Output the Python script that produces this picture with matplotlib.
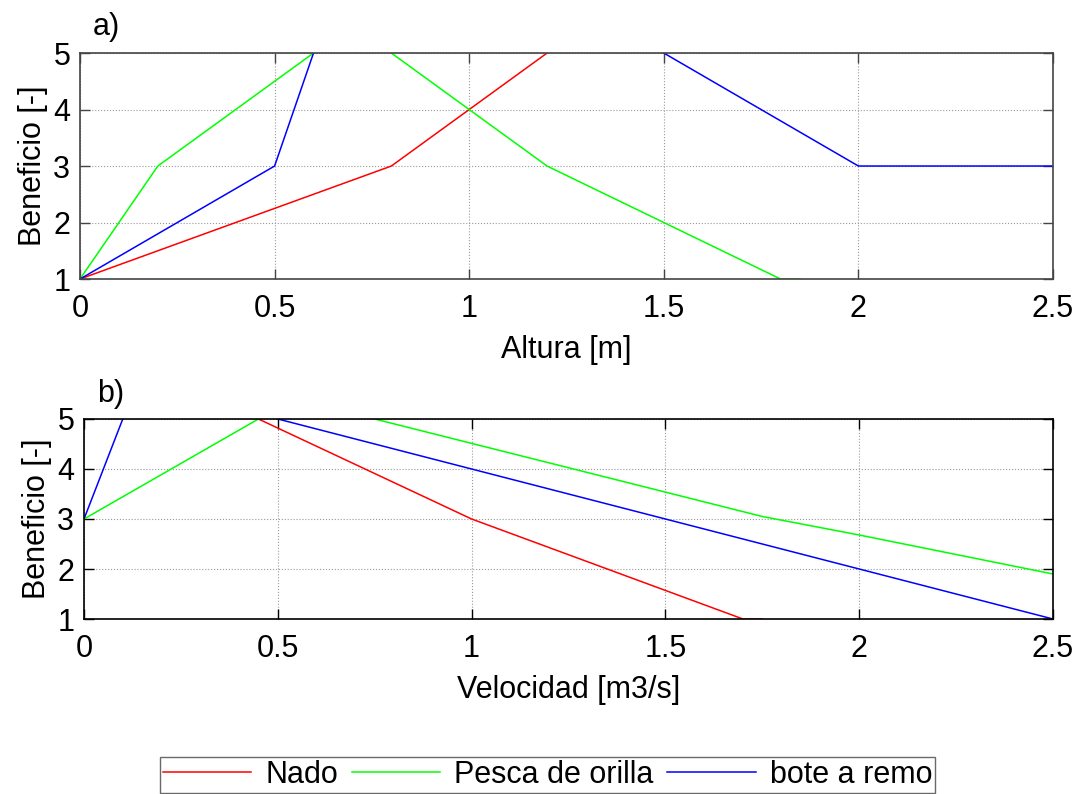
import matplotlib.pyplot as plt

plt.rcParams['font.family'] = ['Liberation Sans', 'DejaVu Sans']

# a) Beneficio vs altura
alt_nado_x = [0, 0.8, 1.2]
alt_nado_y = [1, 3, 5]
alt_pesca_x = [0, 0.2, 0.6, 0.7, 0.8, 1.2, 1.8, 1.85]
alt_pesca_y = [1, 3, 5, 5.5, 5, 3, 1, 1]
alt_bote_x = [0, 0.5, 0.6, 1.0, 1.5, 2.0, 2.5]
alt_bote_y = [1, 3, 5, 6, 5, 3, 3]

# b) Beneficio vs velocidad
vel_nado_x = [0.45, 1.0, 1.7, 1.75]
vel_nado_y = [5, 3, 1, 1]
vel_pesca_x = [0, 0.45, 0.6, 0.75, 1.75, 2.0, 2.5]
vel_pesca_y = [3, 5, 5.5, 5, 3.05, 2.68, 1.9]
vel_bote_x = [0, 0.1, 0.3, 0.5, 2.5]
vel_bote_y = [3, 5, 6, 5, 1]

labels = ['Nado', 'Pesca de orilla', 'bote a remo']
colores = ['#ff0000', '#00ff00', '#0000ff']

fig = plt.figure(figsize=(10.84, 7.94), dpi=100)
ax1 = fig.add_axes([0.0738, 0.6486, 0.8976, 0.2846])
ax2 = fig.add_axes([0.0775, 0.2204, 0.8939, 0.2519])


def estilo(ax, xlabel, letra, borde):
    ax.set_xlim(0, 2.5)
    ax.set_ylim(1, 5)
    ax.set_xticks([0, 0.5, 1, 1.5, 2, 2.5])
    ax.set_xticklabels(['0', '0.5', '1', '1.5', '2', '2.5'])
    ax.set_yticks([1, 2, 3, 4, 5])
    ax.tick_params(direction='in', top=True, right=True, labelsize=22,
                   length=7, width=1, color=borde, pad=7)
    ax.tick_params(axis='x', pad=11)
    for s in ax.spines.values():
        s.set_color(borde)
        s.set_linewidth(1.2)
    ax.grid(True, linestyle=':', color='#999999', linewidth=0.8)
    ax.set_xlabel(xlabel, fontsize=22, labelpad=8)
    ax.set_ylabel('Beneficio [-]', fontsize=22, labelpad=4)
    ax.text(0.013, 1.05, letra, transform=ax.transAxes, fontsize=22,
            ha='left', va='bottom')


series1 = [(alt_nado_x, alt_nado_y), (alt_pesca_x, alt_pesca_y), (alt_bote_x, alt_bote_y)]
series2 = [(vel_nado_x, vel_nado_y), (vel_pesca_x, vel_pesca_y), (vel_bote_x, vel_bote_y)]

for (x, y), c, lab in zip(series1, colores, labels):
    ax1.plot(x, y, color=c, linewidth=1.1, label=lab)
for (x, y), c in zip(series2, colores):
    ax2.plot(x, y, color=c, linewidth=1.1)

estilo(ax1, 'Altura [m]', 'a)', '#444444')
estilo(ax2, 'Velocidad [m3/s]', 'b)', '#000000')

leg = fig.legend(loc='center', bbox_to_anchor=(0.505, 0.024), ncol=3, fontsize=22,
                 frameon=True, fancybox=False, edgecolor='#444444',
                 handlelength=2.9, columnspacing=0.45, handletextpad=0.45,
                 borderpad=0.1)
leg.get_frame().set_linewidth(1.0)

fig.savefig('out.png', dpi=100)
